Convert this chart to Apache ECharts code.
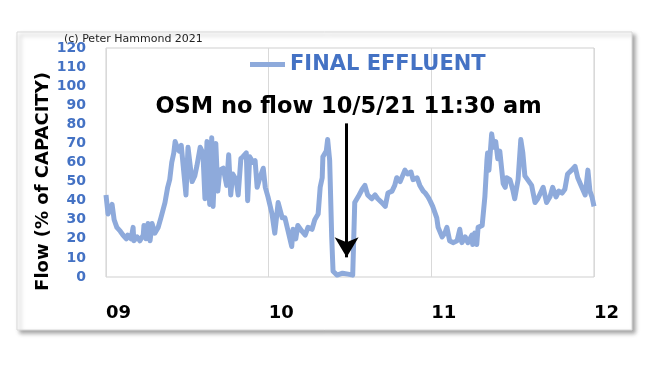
<!DOCTYPE html>
<html>
<head>
<meta charset="utf-8">
<script src="https://cdn.jsdelivr.net/npm/echarts@6/dist/echarts.min.js"></script>
<style>
html,body{margin:0;padding:0;background:#fff;}
#c{width:654px;height:368px;}
</style>
</head>
<body>
<div id="c"></div>
<script>
// Hours since 09 00:00
var hours = [0,0.3,0.6,0.9,1.2,1.6,2.1,2.5,3.0,3.2,3.7,4.0,4.1,4.6,5.0,5.5,5.6,5.9,6.2,6.5,6.8,7.2,7.7,8.1,8.7,9.1,9.4,9.7,10.0,10.2,10.5,10.8,11.1,11.3,11.8,12.1,
12.7,13.1,13.4,13.9,14.3,14.6,14.9,15.3,15.6,15.8,16.2,16.5,16.8,17.3,17.8,18.1,18.4,18.7,19.2,19.5,19.9,20.2,20.7,20.9,21.2,21.7,22.0,22.3,22.7,23.2,23.5,23.9,
24.5,24.9,25.4,26.0,26.4,26.8,27.4,27.6,28.0,28.3,28.9,29.4,29.8,30.4,30.8,31.3,31.6,31.9,32.0,32.5,32.7,33.0,33.3,33.5,34.1,34.9,35.7,36.4,36.7,
37.2,37.8,38.2,38.6,39.2,39.7,40.1,40.7,41.2,41.6,42.2,42.6,42.9,43.4,44.1,44.5,45.0,45.3,45.9,46.3,46.8,47.1,47.5,47.8,
48.2,48.5,48.8,49.0,49.6,50.0,50.3,50.7,51.2,51.8,52.2,52.5,53.0,53.4,54.0,54.1,54.4,54.7,54.9,55.5,55.9,56.2,56.3,56.5,56.9,57.2,57.5,57.8,58.1,58.6,58.9,59.1,59.6,
60.0,60.3,60.8,61.2,61.5,61.8,62.2,62.8,63.3,63.7,64.5,65.0,65.5,65.9,66.4,66.8,67.3,67.7,68.1,68.7,69.2,69.6,70.2,70.7,71.1,71.4,71.7,72.0];
// Flow (% of capacity)
var flow = [43,33,36,38,30,26,24,22,20,22,20,26,19,21,19,22,27,20,28,19,28,23,26,31,39,47,51,60,65,71,68,66,69,68,43,68,
50,53,58,68,65,41,71,38,73,37,70,45,56,57,48,64,43,54,51,43,62,63,65,40,63,60,61,47,52,57,47,42,
33,23,39,31,31,25,16,25,20,27,24,22,26,25,30,33,47,52,63,66,72,61,21,3,1,2,1.5,1,39,
42,46,48,43,41,43,41,39,37,44,45,48,52,50,56,54,55,51,52,48,45,44,42,40,
37,34,31,26,21,23,26,19,18,19,25,18,21,18,22,17,23,17,26,27,42,61,65,56,75,68,71,62,66,49,47,52,51,
46,41,51,72,65,53,51,48,39,41,47,39,42,47,42,45,44,46,54,56,58,52,47,43,56,45,42,37];
var dayLabels = ['09','10','11','12'];
var seriesName = 'FINAL EFFLUENT';
var yTitle = 'Flow (% of CAPACITY)';
var noteText = 'OSM no flow 10/5/21 11:30 am';
var copyText = '(c) Peter Hammond 2021';
var eventHour = 35.5;     // 10/5/21 11:30
var arrowFrom = 80.5, arrowTo = 10.3;

var FONT = 'DejaVu Sans';
var chart = echarts.init(document.getElementById('c'), null, {renderer:'canvas'});
chart.setOption({
  animation:false,
  backgroundColor:'#fff',
  graphic:[
    {type:'rect', z:-10, shape:{x:17,y:32,width:615,height:298},
     style:{fill:'#fff',stroke:'#d9d9d9',lineWidth:1,shadowBlur:4,shadowOffsetX:3,shadowOffsetY:3,shadowColor:'rgba(0,0,0,0.35)'}},
    {type:'text', left:64, top:34, z:10,
     style:{text:copyText, font:'11px "DejaVu Sans"', fill:'#222'}},
    {type:'text', z:10, x:348.5, y:107,
     style:{text:noteText, font:'bold 22.5px "DejaVu Sans"', fill:'#000', align:'center', verticalAlign:'middle'}}
  ],
  legend:{
    left:250, top:54, padding:0, icon:'rect', itemWidth:35, itemHeight:5, itemGap:5,
    textStyle:{fontFamily:FONT, fontWeight:'bold', fontSize:21, color:'#4472c4'},
    data:[seriesName]
  },
  grid:{left:106, right:60, top:48, bottom:91, show:true, borderColor:'#cfcfcf', borderWidth:1},
  xAxis:{
    type:'value', min:0, max:72, interval:24,
    axisLine:{show:false}, axisTick:{show:false},
    splitLine:{show:true, lineStyle:{color:'#d9d9d9', width:1}},
    axisLabel:{show:true, align:'left', margin:27, showMaxLabel:true,
      fontFamily:FONT, fontWeight:'bold', fontSize:18, color:'#000',
      formatter:function(v){return dayLabels[Math.round(v/24)];}}
  },
  yAxis:{
    type:'value', min:0, max:120, interval:10,
    name:yTitle, nameLocation:'middle', nameGap:54, nameRotate:90, nameMoveOverlap:false,
    nameTextStyle:{fontFamily:FONT, fontWeight:'bold', fontSize:18, color:'#000', padding:[0,38,0,0]},
    axisLine:{show:false}, axisTick:{show:false}, splitLine:{show:false},
    axisLabel:{margin:20, fontFamily:FONT, fontWeight:'bold', fontSize:14, color:'#4472c4'}
  },
  series:[{
    name:seriesName, type:'line', showSymbol:false, symbol:'none',
    data:hours.map(function(h,i){return [h, flow[i]];}),
    lineStyle:{color:'#8eaadb', width:5, join:'round'},
    itemStyle:{color:'#8eaadb'},
    markLine:{
      silent:true, symbol:['none','arrow'], symbolSize:[18,20],
      label:{show:false},
      lineStyle:{color:'#000', width:3, type:'solid'},
      data:[[{coord:[eventHour, arrowFrom]},{coord:[eventHour, arrowTo]}]]
    }
  }]
});
</script>
</body>
</html>
